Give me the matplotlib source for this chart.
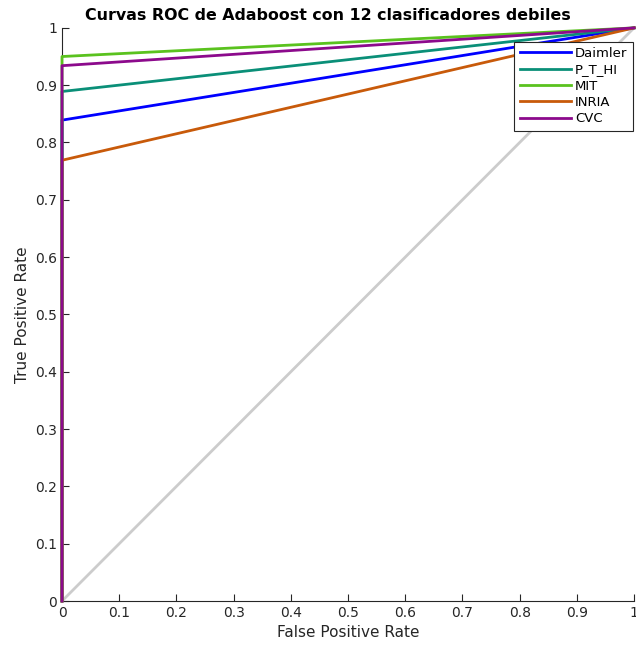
import numpy as np
import matplotlib
matplotlib.use('Agg')
import matplotlib.pyplot as plt

# datos: cada curva ROC es (0,0) -> (0,tpr) -> (1,1)
nombres = ['Daimler', 'P_T_HI', 'MIT', 'INRIA', 'CVC']
tpr = [0.839, 0.889, 0.950, 0.769, 0.934]
colores = ['#0000ff', '#0a8f78', '#5ac21e', '#c85a0a', '#8c0a8c']
fpr_pts = [0, 0, 1]
marcas = [0, 0.1, 0.2, 0.3, 0.4, 0.5, 0.6, 0.7, 0.8, 0.9, 1]
etiquetas = ['0', '0.1', '0.2', '0.3', '0.4', '0.5', '0.6', '0.7', '0.8', '0.9', '1']

fig = plt.figure(figsize=(6.36, 6.48), dpi=100)
ax = fig.add_axes([0.0975, 0.0725, 0.8995, 0.8845])

ax.plot([0, 1], [0, 1], color='#cccccc', lw=2)
for nom, t, c in zip(nombres, tpr, colores):
    ax.plot(fpr_pts, [0, t, 1], color=c, lw=2, label=nom, clip_on=False, zorder=3)

ax.set_xlim(0, 1)
ax.set_ylim(0, 1)
ax.set_xticks(marcas)
ax.set_yticks(marcas)
ax.set_xticklabels(etiquetas)
ax.set_yticklabels(etiquetas)
ax.tick_params(direction='in', labelsize=10, colors='#262626', length=5)
for s in ['top', 'right']:
    ax.spines[s].set_visible(False)
for s in ['left', 'bottom']:
    ax.spines[s].set_color('#262626')
    ax.spines[s].set_linewidth(0.8)

ax.set_xlabel('False Positive Rate', fontsize=11, color='#262626')
ax.set_ylabel('True Positive Rate', fontsize=11, color='#262626')
ax.set_title('Curvas ROC de Adaboost con 12 clasificadores debiles', fontsize=11.4,
             fontweight='bold', x=0.465)

leg = ax.legend(loc='upper right', bbox_to_anchor=(1.0, 0.978), fontsize=9.5, fancybox=False,
                framealpha=1, edgecolor='#262626', handlelength=3.9, handletextpad=0.3,
                borderpad=0.4, labelspacing=0.25, borderaxespad=0.1)
leg.get_frame().set_linewidth(0.8)
leg.set_zorder(5)

fig.savefig('out.png', dpi=100)
